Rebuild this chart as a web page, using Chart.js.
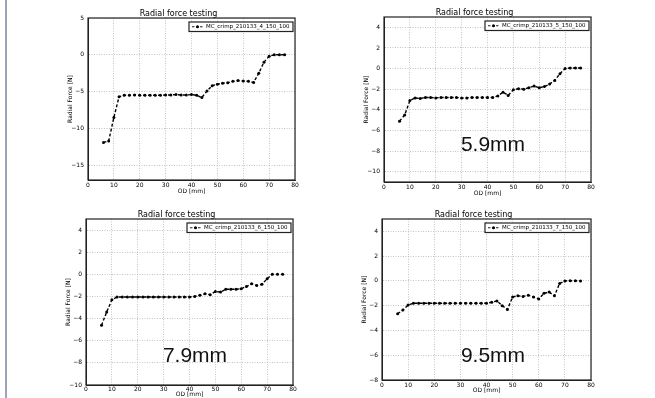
<!DOCTYPE html>
<html lang="en">
<head>
    <meta charset="UTF-8">
    <title>Radial force testing</title>
    <script src="https://cdn.jsdelivr.net/npm/chart.js"></script>
    <style>
        body {
            margin: 0;
            width: 655px;
            height: 398px;
            background-color: #ffffff;
            position: relative;
            overflow: hidden;
            font-family: "DejaVu Sans", sans-serif;
        }
        .edge {
            position: absolute;
            left: 5px;
            top: 0;
            width: 2px;
            height: 398px;
            background-color: #9aa5b6;
        }
        canvas {
            position: absolute;
        }
        .size-note {
            position: absolute;
            width: 120px;
            text-align: center;
            font-family: "Liberation Sans", Arial, sans-serif;
            font-size: 21px;
            line-height: 21px;
            color: #111;
        }
    </style>
</head>
<body>
    <div class="edge"></div>
    <canvas id="chart0"></canvas>
    <canvas id="chart1"></canvas>
    <canvas id="chart2"></canvas>
    <canvas id="chart3"></canvas>
    <div class="size-note" style="left:433px; top:133px;">5.9mm</div>
    <div class="size-note" style="left:135px; top:344px;">7.9mm</div>
    <div class="size-note" style="left:433px; top:344px;">9.5mm</div>

    <script>
        // OD positions (mm) shared by all four runs
        const odMm = [6, 8, 10, 12, 14, 16, 18, 20, 22, 24, 26, 28, 30, 32, 34, 36, 38, 40,
                      42, 44, 46, 48, 50, 52, 54, 56, 58, 60, 62, 64, 66, 68, 70, 72, 74, 76];

        // radial force [N]
        const force4 = [-11.9, -11.7, -8.5, -5.7, -5.5, -5.5, -5.45, -5.5, -5.5, -5.5, -5.5, -5.5,
                        -5.45, -5.45, -5.4, -5.45, -5.45, -5.4, -5.5, -5.8, -4.9, -4.2, -4.0, -3.85,
                        -3.8, -3.6, -3.5, -3.55, -3.6, -3.75, -2.5, -1.0, -0.2, 0, 0, 0];
        const force5 = [-5.1, -4.5, -3.1, -2.85, -2.9, -2.8, -2.8, -2.85, -2.8, -2.8, -2.8, -2.8,
                        -2.85, -2.85, -2.8, -2.8, -2.8, -2.8, -2.8, -2.65, -2.3, -2.6, -2.05, -1.95,
                        -2.0, -1.85, -1.7, -1.85, -1.75, -1.5, -1.15, -0.5, 0, 0.05, 0.05, 0.05];
        const force6 = [-4.6, -3.4, -2.3, -2.05, -2.05, -2.05, -2.05, -2.05, -2.05, -2.05, -2.05, -2.05,
                        -2.05, -2.05, -2.05, -2.05, -2.05, -2.05, -2.0, -1.9, -1.75, -1.85, -1.55, -1.6,
                        -1.35, -1.35, -1.35, -1.3, -1.1, -0.85, -1.0, -0.9, -0.4, 0, 0, 0];
        const force7 = [-2.65, -2.35, -1.95, -1.8, -1.8, -1.8, -1.8, -1.8, -1.8, -1.8, -1.8, -1.8,
                        -1.8, -1.8, -1.8, -1.8, -1.8, -1.8, -1.72, -1.62, -2.0, -2.3, -1.3, -1.2,
                        -1.25, -1.15, -1.3, -1.45, -1.0, -0.9, -1.2, -0.2, 0, 0.02, 0.02, 0];

        const runNames = ['MC_crimp_210133_4_150_100', 'MC_crimp_210133_5_150_100',
                          'MC_crimp_210133_6_150_100', 'MC_crimp_210133_7_150_100'];

        const xTicks = [0, 10, 20, 30, 40, 50, 60, 70, 80];
        const yTicks0 = [5, 0, -5, -10, -15];
        const yTicks1 = [4, 2, 0, -2, -4, -6, -8, -10];
        const yTicks2 = [4, 2, 0, -2, -4, -6, -8, -10];
        const yTicks3 = [4, 2, 0, -2, -4, -6, -8];
        const yLimits = [[-17, 5], [-11, 5], [-10, 5], [-8, 5]];

        const allForces = [force4, force5, force6, force7];
        const allYTicks = [yTicks0, yTicks1, yTicks2, yTicks3];

        // plot area of each subplot on the page (left, top, right, bottom), x axis height, tick gap
        const boxes = [
            { L: 88,  T: 18,  R: 295, B: 180, xh: 16, tp: 2 },
            { L: 384, T: 17,  R: 591, B: 182, xh: 16, tp: 2 },
            { L: 86,  T: 219, R: 293, B: 385, xh: 14, tp: 1 },
            { L: 382, T: 219, R: 591, B: 380, xh: 15, tp: 2 }
        ];

        const FONT = 'DejaVu Sans';
        const yAxisW = 26, titleH = 10, padRight = 6;

        function minusSign(v) {
            return String(v).replace('-', '\u2212');
        }

        // box round the axes + legend in the upper right, matplotlib style
        const framePlugin = {
            id: 'frame',
            afterDraw(chart) {
                const ctx = chart.ctx;
                const a = chart.chartArea;
                ctx.save();
                ctx.strokeStyle = '#222';
                ctx.lineWidth = 1.2;
                ctx.strokeRect(a.left, a.top, a.right - a.left, a.bottom - a.top);

                // legend
                const w = 104, h = 9.5;
                const x = a.right - w - 2, y = a.top + 4;
                ctx.fillStyle = '#fff';
                ctx.fillRect(x, y, w, h);
                ctx.strokeStyle = '#222';
                ctx.lineWidth = 1.2;
                ctx.strokeRect(x, y, w, h);
                ctx.setLineDash([2.5, 1.5]);
                ctx.lineWidth = 1.2;
                ctx.beginPath();
                ctx.moveTo(x + 3, y + h / 2);
                ctx.lineTo(x + 14, y + h / 2);
                ctx.stroke();
                ctx.setLineDash([]);
                ctx.fillStyle = '#000';
                ctx.beginPath();
                ctx.arc(x + 8.5, y + h / 2, 1.5, 0, Math.PI * 2);
                ctx.fill();
                ctx.font = '5.5px "' + FONT + '"';
                ctx.textBaseline = 'middle';
                ctx.fillText(chart.options.plugins.runName, x + 17, y + h / 2 + 0.3);
                ctx.restore();
            }
        };

        function createChart(i) {
            const b = boxes[i];
            const canvas = document.getElementById('chart' + i);
            const w = yAxisW + (b.R - b.L) + padRight;
            const h = titleH + (b.B - b.T) + b.xh;
            canvas.width = w;
            canvas.height = h;
            canvas.style.left = (b.L - yAxisW) + 'px';
            canvas.style.top = (b.T - titleH) + 'px';

            const yTicks = allYTicks[i];

            new Chart(canvas.getContext('2d'), {
                type: 'line',
                data: {
                    datasets: [{
                        label: runNames[i],
                        data: odMm.map((x, k) => ({ x: x, y: allForces[i][k] })),
                        borderColor: '#000',
                        borderWidth: 1.4,
                        borderDash: [3, 2],
                        pointRadius: 1.5,
                        pointBackgroundColor: '#000',
                        pointBorderWidth: 0,
                        tension: 0,
                        fill: false
                    }]
                },
                options: {
                    responsive: false,
                    animation: false,
                    layout: { padding: { top: 0, left: 0, right: padRight, bottom: 0 } },
                    plugins: {
                        runName: runNames[i],
                        legend: { display: false },
                        tooltip: { enabled: false },
                        title: {
                            display: true,
                            text: 'Radial force testing',
                            color: '#000',
                            font: { family: FONT, size: 8, weight: 'normal', lineHeight: 1 },
                            padding: { top: 2, bottom: 0 }
                        }
                    },
                    scales: {
                        x: {
                            type: 'linear',
                            min: 0,
                            max: 80,
                            afterBuildTicks: s => { s.ticks = xTicks.map(v => ({ value: v })); },
                            afterFit: s => { s.height = b.xh; },
                            ticks: {
                                color: '#000',
                                font: { family: FONT, size: 6 },
                                padding: b.tp,
                                maxRotation: 0,
                                autoSkip: false
                            },
                            grid: { color: '#b5b5b5', lineWidth: 0.8, drawTicks: false },
                            border: { display: true, color: '#222', dash: [1, 1.5] },
                            title: {
                                display: true,
                                text: 'OD [mm]',
                                color: '#000',
                                font: { family: FONT, size: 6, lineHeight: 1.2 },
                                padding: { top: 0, bottom: 0.5 }
                            }
                        },
                        y: {
                            type: 'linear',
                            min: yLimits[i][0],
                            max: yLimits[i][1],
                            afterBuildTicks: s => { s.ticks = yTicks.map(v => ({ value: v })); },
                            afterFit: s => { s.width = yAxisW; },
                            ticks: {
                                color: '#000',
                                font: { family: FONT, size: 6 },
                                padding: 4,
                                autoSkip: false,
                                callback: v => minusSign(v)
                            },
                            grid: { color: '#b5b5b5', lineWidth: 0.8, drawTicks: false },
                            border: { display: true, color: '#222', dash: [1, 1.5] },
                            title: {
                                display: true,
                                text: 'Radial Force [N]',
                                color: '#000',
                                font: { family: FONT, size: 6, lineHeight: 1.2 },
                                padding: { top: 4.4, bottom: 0 }
                            }
                        }
                    }
                },
                plugins: [framePlugin]
            });
        }

        for (let i = 0; i < 4; i++) {
            createChart(i);
        }
    </script>
</body>
</html>
